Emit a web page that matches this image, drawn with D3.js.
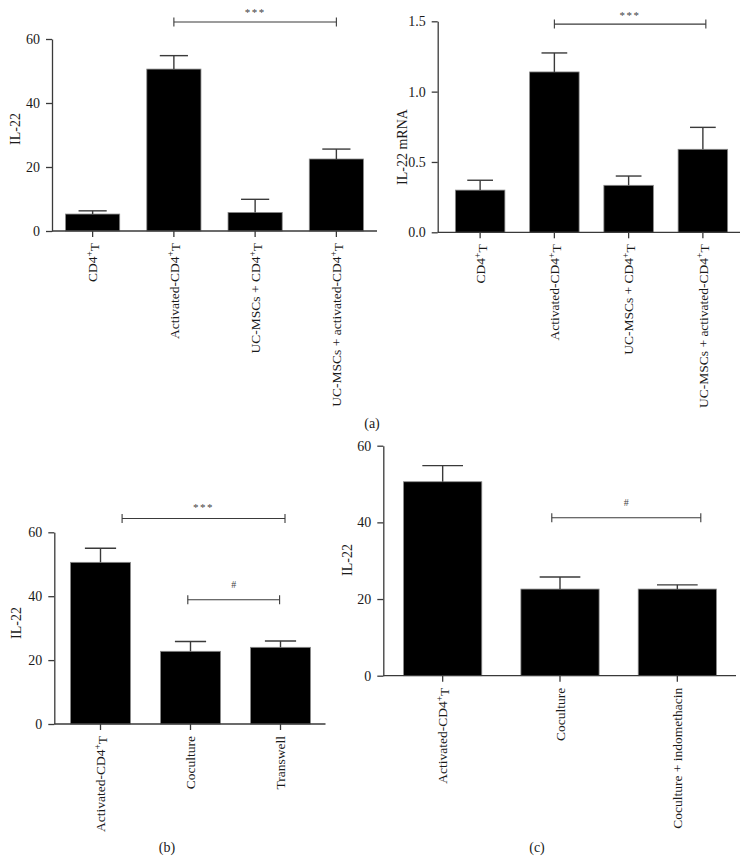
<!DOCTYPE html>
<html>
<head>
<meta charset="utf-8">
<script src="https://cdn.jsdelivr.net/npm/d3@7"></script>
<style>
  body { margin: 0; background: #fff; }
  svg { display: block; font-family: "Liberation Serif", "Times New Roman", serif; }
</style>
</head>
<body>
<svg id="fig" width="748" height="861"></svg>
<script>
// Panel (a) left: IL-22 protein
const catsA = ['CD4+T', 'Activated-CD4+T', 'UC-MSCs + CD4+T', 'UC-MSCs + activated-CD4+T'];
const il22A = [5.3, 50.6, 5.8, 22.5];
const semA = [1.0, 4.2, 4.1, 3.1];
const ticksA = [0, 20, 40, 60];

// Panel (a) right: IL-22 mRNA
const mrnaA = [0.30, 1.14, 0.334, 0.59];
const mrnaSemA = [0.07, 0.135, 0.066, 0.156];
const ticksMrna = [0, 0.5, 1.0, 1.5];

// Panel (b)
const catsB = ['Activated-CD4+T', 'Coculture', 'Transwell'];
const il22B = [50.6, 22.75, 24.0];
const semB = [4.4, 3.05, 2.0];

// Panel (c)
const catsC = ['Activated-CD4+T', 'Coculture', 'Coculture + indomethacin'];
const il22C = [50.6, 22.6, 22.6];
const semC = [4.2, 3.15, 1.1];

const svg = d3.select('#fig');
const ink = '#1a1a1a';
const lineCol = '#3a3a3a';

// write "CD4+T" with a superscript plus
function labelText(sel, str) {
    const parts = str.split('CD4+T');
    parts.forEach((p, i) => {
        if (p) sel.append('tspan').text(p);
        if (i < parts.length - 1) {
            sel.append('tspan').text('CD4');
            sel.append('tspan').attr('dy', '-0.45em').attr('font-size', '0.7em').text('+');
            sel.append('tspan').attr('dy', '0.45em').text('T');
        }
    });
}

function panel(opt) {
    const g = svg.append('g');
    const x = d3.scaleBand().domain(opt.cats).range(opt.xr).paddingInner(1 / 3).paddingOuter(1 / 6);
    const y = d3.scaleLinear().domain([0, opt.ymax]).range(opt.yr);
    const step = x.step();
    const pos = i => opt.xr[0] + step * (i + 0.5);

    // bars
    g.selectAll('rect.bar').data(opt.vals).join('rect')
        .attr('class', 'bar')
        .attr('x', (d, i) => x(opt.cats[i]))
        .attr('y', d => y(d))
        .attr('width', x.bandwidth())
        .attr('height', d => y(0) - y(d))
        .attr('fill', '#000')
        .attr('stroke', '#8a8a8a')
        .attr('stroke-width', 0.8);

    // error bars (upper only)
    const cap = x.bandwidth() * 0.26;
    opt.vals.forEach((v, i) => {
        const cx = pos(i);
        g.append('line').attr('x1', cx).attr('x2', cx)
            .attr('y1', y(v)).attr('y2', y(v + opt.sem[i]))
            .attr('stroke', lineCol).attr('stroke-width', 1.4);
        g.append('line').attr('x1', cx - cap).attr('x2', cx + cap)
            .attr('y1', y(v + opt.sem[i])).attr('y2', y(v + opt.sem[i]))
            .attr('stroke', lineCol).attr('stroke-width', 1.4);
    });

    // y axis
    const yAxis = d3.axisLeft(y).tickValues(opt.ticks).tickSize(6).tickPadding(6)
        .tickSizeOuter(0).tickFormat(opt.fmt);
    const gy = g.append('g').attr('transform', `translate(${opt.ax},0)`).call(yAxis);
    gy.select('.domain').attr('stroke', lineCol).attr('stroke-width', 1.3);
    gy.selectAll('.tick line').attr('stroke', lineCol).attr('stroke-width', 1.3);
    gy.selectAll('.tick text').attr('fill', ink).attr('font-size', 14).attr('font-family', 'Liberation Serif');

    // x axis
    const xAxis = d3.axisBottom(x).tickSize(6).tickSizeOuter(0).tickFormat('');
    const gx = g.append('g').attr('transform', `translate(0,${y(0)})`).call(xAxis);
    gx.select('.domain').remove();
    gx.selectAll('.tick line').attr('stroke', lineCol).attr('stroke-width', 1.3);
    g.append('line').attr('x1', opt.ax).attr('x2', opt.xr[1])
        .attr('y1', y(0)).attr('y2', y(0))
        .attr('stroke', lineCol).attr('stroke-width', 1.3);
    opt.cats.forEach((c, i) => {
        const t = g.append('text')
            .attr('transform', `translate(${pos(i)},${y(0) + 12}) rotate(-90)`)
            .attr('text-anchor', 'end')
            .attr('dy', '0.35em')
            .attr('font-size', 13.5)
            .attr('fill', ink);
        labelText(t, c);
    });

    // y label
    g.append('text')
        .attr('transform', `translate(${opt.ylab[0]},${opt.ylab[1]}) rotate(-90)`)
        .attr('text-anchor', 'middle').attr('dy', '0.35em')
        .attr('font-size', 14).attr('fill', ink)
        .text(opt.ytitle);

    // significance brackets
    opt.brackets.forEach(b => {
        const by = y(b.y);
        const x1 = pos(b.from), x2 = pos(b.to);
        g.append('line').attr('x1', x1).attr('x2', x2).attr('y1', by).attr('y2', by)
            .attr('stroke', lineCol).attr('stroke-width', 1.1);
        [x1, x2].forEach(xx => g.append('line').attr('x1', xx).attr('x2', xx)
            .attr('y1', by - 4.5).attr('y2', by + 4.5)
            .attr('stroke', lineCol).attr('stroke-width', 1.1));
        g.append('text').attr('x', (x1 + x2) / 2).attr('y', by - b.off)
            .attr('text-anchor', 'middle').attr('dy', '0.35em')
            .attr('font-size', b.label === '#' ? 10 : 11).attr('fill', '#444')
            .attr('letter-spacing', b.label === '#' ? 0 : 1.5)
            .text(b.label);
    });
}

panel({
    cats: catsA, vals: il22A, sem: semA, ticks: ticksA, ymax: 60,
    xr: [52, 377], yr: [231, 39], ax: 52, fmt: d3.format('d'),
    ytitle: 'IL-22', ylab: [15, 129],
    brackets: [{from: 1, to: 3, y: 65.3, label: '***', off: 10}]
});

panel({
    cats: catsA, vals: mrnaA, sem: mrnaSemA, ticks: ticksMrna, ymax: 1.5,
    xr: [443, 740], yr: [232.3, 21.3], ax: 437.7, fmt: d3.format('.1f'),
    ytitle: 'IL-22 mRNA', ylab: [402, 147],
    brackets: [{from: 1, to: 3.04, y: 1.48, label: '***', off: 9}]
});

panel({
    cats: catsB, vals: il22B, sem: semB, ticks: ticksA, ymax: 60,
    xr: [55.5, 325.5], yr: [724, 532.3], ax: 54.3, fmt: d3.format('d'),
    ytitle: 'IL-22', ylab: [16, 623],
    brackets: [
        {from: 0.24, to: 2.05, y: 64.3, label: '***', off: 11.5},
        {from: 0.97, to: 1.99, y: 38.9, label: '#', off: 15}
    ]
});

panel({
    cats: catsC, vals: il22C, sem: semC, ticks: ticksA, ymax: 60,
    xr: [384, 736], yr: [675.7, 445.7], ax: 383.3, fmt: d3.format('d'),
    ytitle: 'IL-22', ylab: [347, 560],
    brackets: [{from: 0.93, to: 2.2, y: 41.2, label: '#', off: 15.5}]
});

// panel captions
const captions = [['(a)', 372, 423], ['(b)', 167, 847], ['(c)', 537, 847]];
captions.forEach(c => svg.append('text')
    .attr('x', c[1]).attr('y', c[2]).attr('dy', '0.35em')
    .attr('text-anchor', 'middle').attr('font-size', 14).attr('fill', ink)
    .text(c[0]));
</script>
</body>
</html>
